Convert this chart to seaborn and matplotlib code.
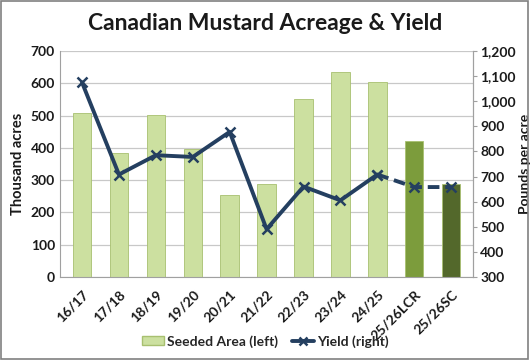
import numpy as np
import pandas as pd
import matplotlib
matplotlib.use("Agg")
import matplotlib.pyplot as plt
import matplotlib.patches as mpatches
from matplotlib.lines import Line2D
from matplotlib.ticker import FuncFormatter, MultipleLocator
import seaborn as sns

seasons = ["16/17", "17/18", "18/19", "19/20", "20/21", "21/22",
           "22/23", "23/24", "24/25", "25/26LCR", "25/26SC"]
seeded_area = [507, 383, 503, 395, 255, 288, 553, 636, 604, 420, 288]
yield_lbs = [1075, 708, 785, 778, 878, 490, 660, 605, 708, 658, 658]

BAR_LIGHT = "#CCE0A0"
BAR_LCR = "#7C9C3C"
BAR_SC = "#53682B"
LINE_COL = "#243F60"
GRID_COL = "#C8C8C8"
TEXT_COL = "#1A1A1A"

sns.set_style("white")
plt.rcParams["font.family"] = ["Lato", "DejaVu Sans"]

df = pd.DataFrame({"season": seasons, "area": seeded_area, "yield": yield_lbs})
bar_colors = [BAR_LIGHT] * 9 + [BAR_LCR, BAR_SC]

fig = plt.figure(figsize=(5.3, 3.6), dpi=100)
ax = fig.add_axes([0.113, 0.231, 0.78, 0.627])

sns.barplot(data=df, x="season", y="area", hue="season", palette=bar_colors,
            legend=False, width=0.5, edgecolor="#A8C070", linewidth=0.6,
            saturation=1, ax=ax)
ax.set_ylim(0, 700)
ax.yaxis.set_major_locator(MultipleLocator(100))
ax.grid(axis="y", color=GRID_COL, linewidth=0.9)
ax.set_axisbelow(True)
ax.set_xlabel("")
ax.set_ylabel("Thousand acres", fontsize=10.5, fontweight="bold", color=TEXT_COL)
ax.spines["top"].set_visible(False)
for s in ["left", "right", "bottom"]:
    ax.spines[s].set_color("#A0A0A0")
ax.tick_params(axis="y", labelsize=10, length=0, colors=TEXT_COL)
ax.tick_params(axis="x", labelsize=10, length=4, color="#A0A0A0", colors=TEXT_COL, pad=4)
ax.set_xticks(np.arange(len(seasons)))
ax.set_xticklabels(seasons, rotation=45, ha="right", rotation_mode="anchor")
for lab in ax.get_xticklabels() + ax.get_yticklabels():
    lab.set_fontweight("bold")

ax2 = ax.twinx()
x = np.arange(len(seasons))
ax2.plot(x[:9], yield_lbs[:9], color=LINE_COL, linewidth=2.8,
         marker="x", markersize=7, markeredgewidth=1.8)
ax2.plot(x[8:], yield_lbs[8:], color=LINE_COL, linewidth=2.8, linestyle=(0, (3, 1.5)),
         marker="x", markersize=7, markeredgewidth=1.8)
ax2.set_ylim(300, 1200)
ax2.yaxis.set_major_locator(MultipleLocator(100))
ax2.yaxis.set_major_formatter(FuncFormatter(lambda v, p: f"{int(v):,}"))
ax2.set_ylabel("Pounds per acre", fontsize=10, fontweight="bold", color=TEXT_COL, labelpad=2)
ax2.tick_params(axis="y", labelsize=10, length=3, pad=2, color="#A0A0A0", colors=TEXT_COL)
for lab in ax2.get_yticklabels():
    lab.set_fontweight("bold")
for s in ["top", "left", "bottom"]:
    ax2.spines[s].set_visible(False)
ax2.spines["right"].set_color("#A0A0A0")
ax.set_xlim(-0.6, len(seasons) - 0.4)

fig.suptitle("Canadian Mustard Acreage & Yield", x=0.5, y=0.965,
             fontsize=16.5, fontweight="bold", color=TEXT_COL)

handles = [mpatches.Patch(facecolor=BAR_LIGHT, edgecolor="#A8C070", label="Seeded Area (left)"),
           Line2D([0], [0], color=LINE_COL, linewidth=2.8, marker="x", markersize=6,
                  markeredgewidth=1.8, label="Yield (right)")]
fig.legend(handles=handles, loc="lower center", bbox_to_anchor=(0.5, 0.0), ncol=2,
           frameon=False, prop={"weight": "bold", "size": 10},
           handlelength=1.6, handletextpad=0.2, columnspacing=1.0)

fig.add_artist(mpatches.Rectangle((0.002, 0.003), 0.995, 0.993, transform=fig.transFigure,
                                  fill=False, edgecolor="#808080", linewidth=1.2))

fig.savefig("out.png", dpi=100, facecolor="white")
